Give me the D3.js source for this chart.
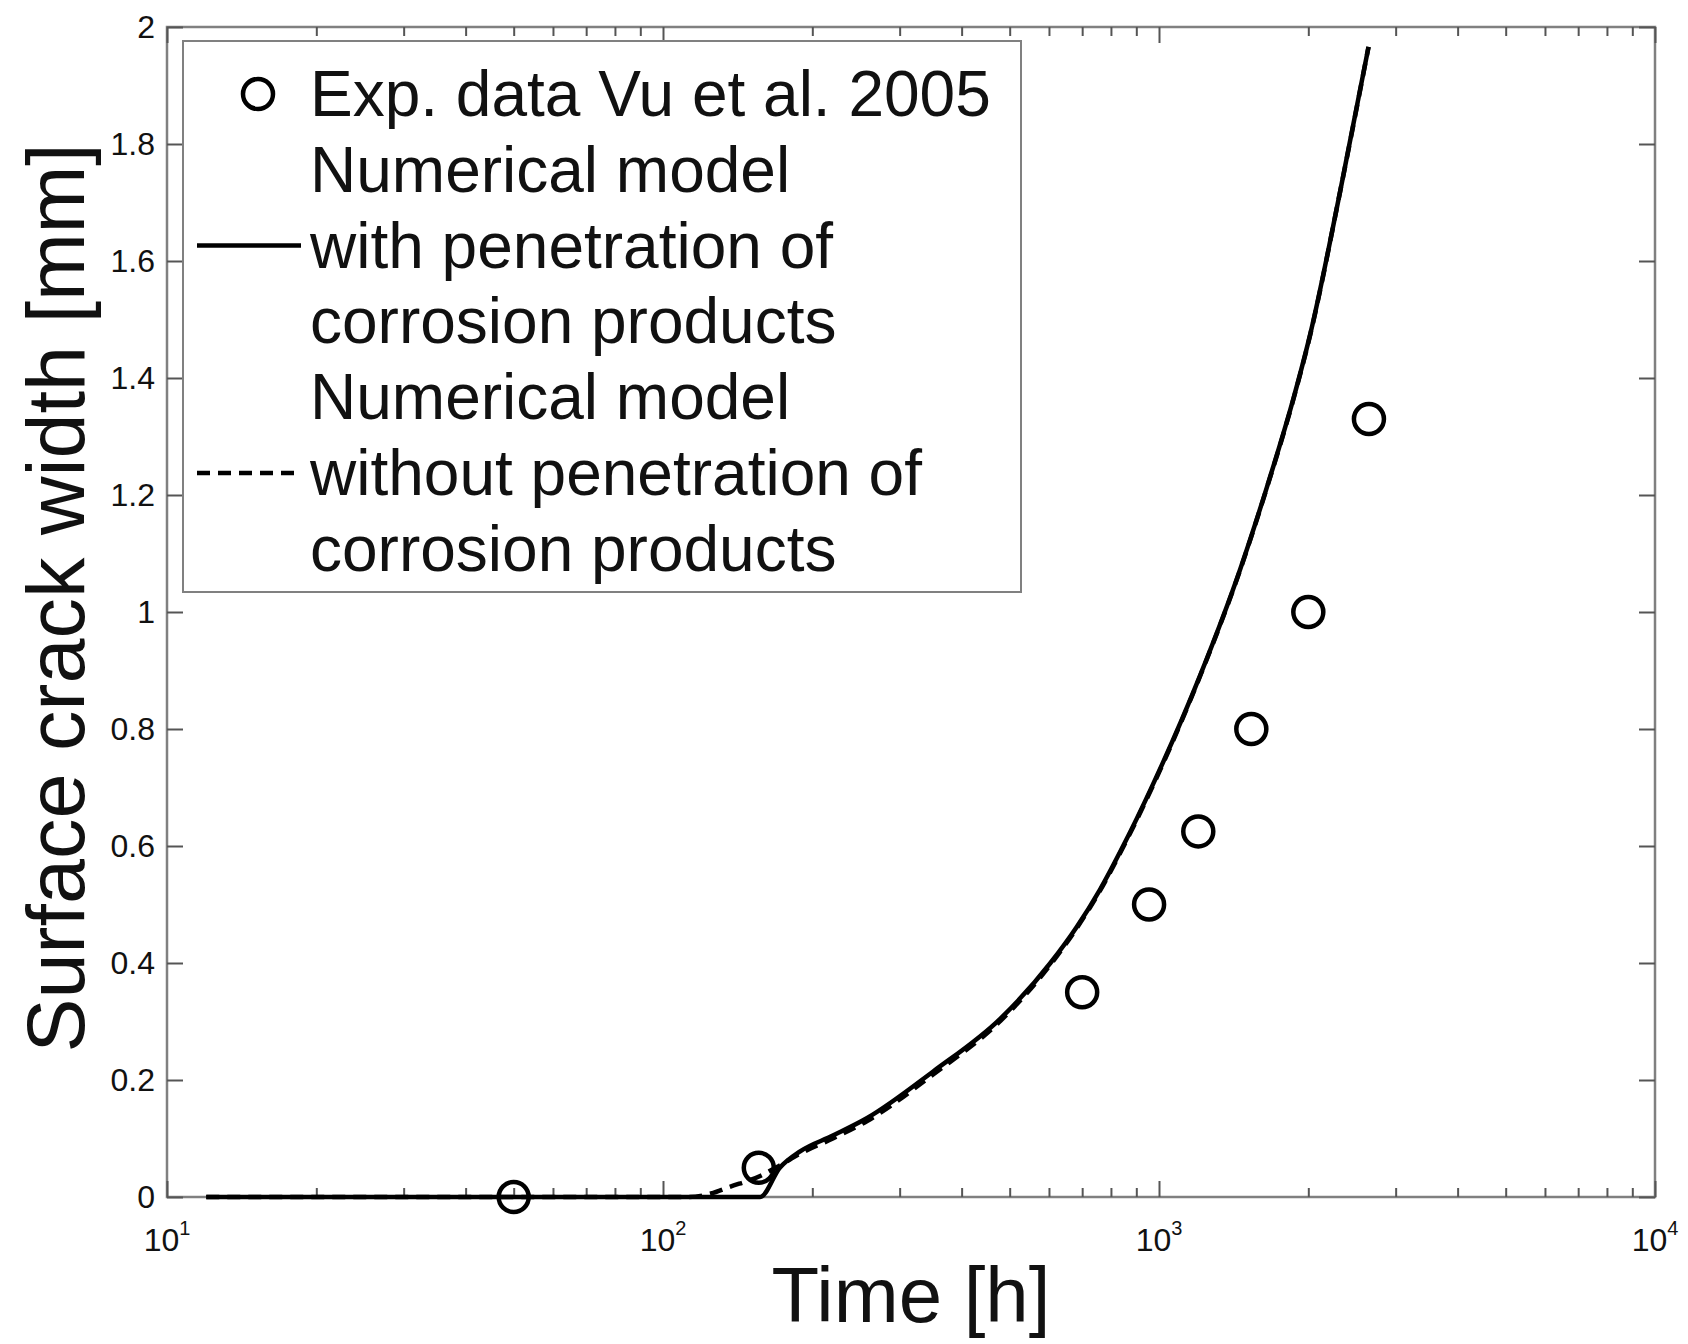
<!DOCTYPE html>
<html>
<head>
<meta charset="utf-8">
<script src="https://cdn.jsdelivr.net/npm/d3@7"></script>
<style>
  body { margin: 0; background: #fff; }
  text { font-family: "Liberation Sans", Arial, sans-serif; fill: #111; }
</style>
</head>
<body>
<script>
var svgWidth = 1688;
var svgHeight = 1344;
var margin = { top: 27, right: 33, bottom: 147, left: 167 },
        width = svgWidth - margin.left - margin.right,
        height = svgHeight - margin.top - margin.bottom;

// experimental points (Vu et al. 2005)
var expTime = [50, 156, 700, 955, 1200, 1535, 2000, 2650];
var expWidth = [0, 0.05, 0.35, 0.50, 0.625, 0.80, 1.00, 1.33];

// numerical model, with penetration of corrosion products
var withTime = [12, 157, 172, 189, 220, 258, 351, 479, 604, 683, 761, 849, 961, 1211, 1459, 1651, 1868, 2018, 2320, 2645];
var withWidth = [0, 0, 0.05, 0.078, 0.105, 0.135, 0.215, 0.305, 0.40, 0.462, 0.526, 0.602, 0.696, 0.892, 1.074, 1.214, 1.366, 1.475, 1.72, 1.966];

// numerical model, without penetration of corrosion products
var withoutTime = [12, 113, 125, 136, 157, 172, 189, 220, 258, 351, 479, 604, 683, 761, 849, 961, 1211, 1459, 1651, 1868, 2018, 2320, 2645];
var withoutWidth = [0, 0, 0.006, 0.017, 0.036, 0.054, 0.074, 0.1, 0.13, 0.21, 0.301, 0.397, 0.46, 0.524, 0.6, 0.694, 0.891, 1.073, 1.213, 1.365, 1.474, 1.72, 1.966];

var xTicks = [10, 100, 1000, 10000];
var xExponents = ["1", "2", "3", "4"];
var yTicks = [0, 0.2, 0.4, 0.6, 0.8, 1, 1.2, 1.4, 1.6, 1.8, 2];

var legendLabels = [
    ["Exp. data Vu et al. 2005"],
    ["Numerical model", "with penetration of", "corrosion products"],
    ["Numerical model", "without penetration of", "corrosion products"]
];

var svg = d3.select("body").append("svg").attr("width", svgWidth).attr("height", svgHeight);
var g = svg.append("g").attr("transform", `translate(${margin.left},${margin.top})`);

var x = d3.scaleLog().domain([10, 10000]).range([0, width]);
var y = d3.scaleLinear().domain([0, 2]).range([height, 0]);

// minor ticks 2..9 in every decade
var minorTicks = [];
xTicks.slice(0, -1).forEach(function (d) {
    for (var k = 2; k < 10; k++) minorTicks.push(d * k);
});

function noDomain(sel) {
    sel.select(".domain").remove();
    sel.selectAll(".tick line").attr("stroke", "#555").attr("stroke-width", 2);
}

// box
g.append("rect")
    .attr("width", width).attr("height", height)
    .attr("fill", "none").attr("stroke", "#808080").attr("stroke-width", 2.5);

// x ticks bottom / top
g.append("g").attr("transform", `translate(0,${height})`)
    .call(d3.axisBottom(x).tickValues(xTicks).tickSize(-16).tickFormat(""))
    .call(noDomain);
g.append("g").attr("transform", `translate(0,${height})`)
    .call(d3.axisBottom(x).tickValues(minorTicks).tickSize(-9).tickFormat(""))
    .call(noDomain);
g.append("g")
    .call(d3.axisTop(x).tickValues(xTicks).tickSize(-16).tickFormat(""))
    .call(noDomain);
g.append("g")
    .call(d3.axisTop(x).tickValues(minorTicks).tickSize(-9).tickFormat(""))
    .call(noDomain);

// y ticks left / right
g.append("g")
    .call(d3.axisLeft(y).tickValues(yTicks).tickSize(-16).tickPadding(12).tickFormat(d3.format("~g")))
    .call(noDomain)
    .selectAll("text").attr("font-size", 32).attr("fill", "#111")
    .style("font-family", '"Liberation Sans", Arial, sans-serif');
g.append("g").attr("transform", `translate(${width},0)`)
    .call(d3.axisRight(y).tickValues(yTicks).tickSize(-16).tickFormat(""))
    .call(noDomain);

// x tick labels as 10^n
var xl = g.append("g").selectAll("text").data(xTicks).enter().append("text")
    .attr("x", d => x(d))
    .attr("y", height + 54)
    .attr("text-anchor", "middle")
    .attr("font-size", 32);
xl.append("tspan").text("10");
xl.append("tspan").attr("dy", -16).attr("font-size", 20).text((d, i) => xExponents[i]);

// curves
var withData = withTime.map((t, i) => [t, withWidth[i]]);
var withoutData = withoutTime.map((t, i) => [t, withoutWidth[i]]);
var line = d3.line().x(d => x(d[0])).y(d => y(d[1])).curve(d3.curveMonotoneX);

g.append("path").datum(withoutData)
    .attr("d", line).attr("fill", "none")
    .attr("stroke", "#000").attr("stroke-width", 4.5).attr("stroke-dasharray", "13,8");
g.append("path").datum(withData)
    .attr("d", line).attr("fill", "none")
    .attr("stroke", "#000").attr("stroke-width", 4.5);

// experimental markers
g.selectAll(".exp").data(expTime).enter().append("circle")
    .attr("class", "exp")
    .attr("cx", d => x(d))
    .attr("cy", (d, i) => y(expWidth[i]))
    .attr("r", 15)
    .attr("fill", "none").attr("stroke", "#000").attr("stroke-width", 4.5);

// axis titles
svg.append("text")
    .attr("x", margin.left + width / 2).attr("y", 1322)
    .attr("text-anchor", "middle").attr("font-size", 78)
    .text("Time [h]");
svg.append("text")
    .attr("transform", "translate(84,598) rotate(-90)")
    .attr("text-anchor", "middle").attr("font-size", 81)
    .text("Surface crack width [mm]");

// legend
var leg = svg.append("g").attr("transform", "translate(183,41)");
leg.append("rect").attr("width", 838).attr("height", 551)
    .attr("fill", "#fff").attr("stroke", "#808080").attr("stroke-width", 2);

var rowH = 75.8, row0 = 53;
var rows = [];
legendLabels.forEach(function (lines, i) {
    lines.forEach(function (s) { rows.push({ text: s, entry: i }); });
});
leg.selectAll(".ltext").data(rows).enter().append("text")
    .attr("class", "ltext")
    .attr("x", 127)
    .attr("y", (d, i) => row0 + i * rowH + 22)
    .attr("font-size", 64)
    .text(d => d.text);

leg.append("circle").attr("cx", 75).attr("cy", row0).attr("r", 15)
    .attr("fill", "none").attr("stroke", "#000").attr("stroke-width", 4.5);
leg.append("line").attr("x1", 14).attr("x2", 118)
    .attr("y1", row0 + 2 * rowH).attr("y2", row0 + 2 * rowH)
    .attr("stroke", "#000").attr("stroke-width", 4.5);
leg.append("line").attr("x1", 14).attr("x2", 118)
    .attr("y1", row0 + 5 * rowH).attr("y2", row0 + 5 * rowH)
    .attr("stroke", "#000").attr("stroke-width", 4.5).attr("stroke-dasharray", "13,8");
</script>
</body>
</html>
